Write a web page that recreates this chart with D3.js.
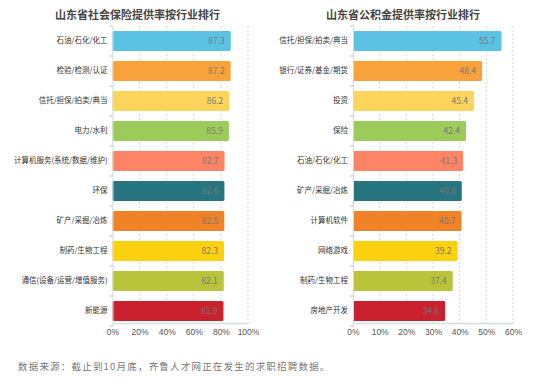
<!DOCTYPE html>
<html>
<head>
<meta charset="utf-8">
<script src="https://cdn.jsdelivr.net/npm/d3@7"></script>
<style>
  body { margin: 0; background: #fff; }
  svg { font-family: "Noto Sans CJK SC", "Noto Sans", sans-serif; }
</style>
</head>
<body>
<svg id="chart" width="544" height="388"></svg>
<script>
// left chart: social insurance
var socialCats = ['石油/石化/化工', '检验/检测/认证', '信托/担保/拍卖/典当', '电力/水利',
  '计算机服务(系统/数据/维护)', '环保', '矿产/采掘/冶炼', '制药/生物工程',
  '通信(设备/运营/增值服务)', '新能源'];
var socialVals = [87.3, 87.2, 86.2, 85.9, 82.7, 82.6, 82.5, 82.3, 82.1, 81.9];
var socialTicks = [0, 20, 40, 60, 80, 100];

// right chart: housing fund
var fundCats = ['信托/担保/拍卖/典当', '银行/证券/基金/期货', '投资', '保险', '石油/石化/化工',
  '矿产/采掘/冶炼', '计算机软件', '网络游戏', '制药/生物工程', '房地产开发'];
var fundVals = [55.7, 48.4, 45.4, 42.4, 41.3, 40.8, 40.7, 39.2, 37.4, 34.6];
var fundTicks = [0, 10, 20, 30, 40, 50, 60];

var colors = ['#5bc2e4', '#f8a23c', '#fed55c', '#9ccb5a', '#fd8464',
  '#267580', '#f08228', '#fed10e', '#bac43a', '#c9212d'];

var svg = d3.select('#chart');

function drawChart(title, cats, vals, ticks, x0, x1, titleX) {
  var x = d3.scaleLinear().domain([0, ticks[ticks.length - 1]]).range([x0, x1]);
  var y = d3.scaleBand().domain(cats).range([26, 326]).paddingInner(1/3).paddingOuter(1/6);
  var g = svg.append('g');

  g.append('text')
    .attr('x', titleX).attr('y', 19)
    .attr('text-anchor', 'middle')
    .attr('font-size', 11).attr('font-weight', 'bold')
    .attr('fill', '#444')
    .text(title);

  // gridlines
  g.selectAll('line.grid')
    .data(ticks.slice(1))
    .enter().append('line')
      .attr('class', 'grid')
      .attr('x1', function(d) { return x(d); })
      .attr('x2', function(d) { return x(d); })
      .attr('y1', 26).attr('y2', 323)
      .attr('stroke', '#d8d8d8')
      .attr('stroke-dasharray', '2,2');

  // bars
  g.selectAll('rect.bar')
    .data(vals)
    .enter().append('rect')
      .attr('class', 'bar')
      .attr('x', x(0))
      .attr('y', function(d, i) { return y(cats[i]); })
      .attr('width', function(d) { return x(d) - x(0); })
      .attr('height', y.bandwidth())
      .attr('rx', 1.5)
      .attr('fill', function(d, i) { return colors[i]; });

  g.selectAll('text.val')
    .data(vals)
    .enter().append('text')
      .attr('class', 'val')
      .attr('x', function(d) { return x(d) - 6; })
      .attr('y', function(d, i) { return y(cats[i]) + y.bandwidth() / 2 + 3; })
      .attr('text-anchor', 'end')
      .attr('font-size', 8.5)
      .attr('fill', '#777')
      .text(function(d) { return d.toFixed(1); });

  // y axis
  var yAxis = g.append('g')
    .attr('transform', 'translate(' + x(0) + ',0)')
    .call(d3.axisLeft(y).tickSize(0).tickPadding(5));
  yAxis.select('.domain').attr('stroke', '#c6dde3');
  yAxis.selectAll('text').attr('font-size', 7.5).attr('fill', '#333')
    .attr('font-family', '"Noto Sans CJK SC", sans-serif');

  // small separators between categories
  g.selectAll('line.sep')
    .data(d3.range(cats.length + 1))
    .enter().append('line')
      .attr('class', 'sep')
      .attr('x1', x(0) - 3).attr('x2', x(0))
      .attr('y1', function(d) { return 26 + d * y.step() - y.step() / 6 + 5; })
      .attr('y2', function(d) { return 26 + d * y.step() - y.step() / 6 + 5; })
      .attr('stroke', '#bbb');

  // x axis
  var xAxis = g.append('g')
    .attr('transform', 'translate(0,323)')
    .call(d3.axisBottom(x).tickValues(ticks).tickSize(0).tickPadding(6)
      .tickFormat(function(d) { return d + '%'; }));
  xAxis.select('.domain').attr('stroke', '#cfe0e0').attr('stroke-width', 1.5);
  xAxis.selectAll('text').attr('font-size', 8.5).attr('fill', '#555');
}

drawChart('山东省社会保险提供率按行业排行', socialCats, socialVals, socialTicks, 112.5, 248, 137.5);
drawChart('山东省公积金提供率按行业排行', fundCats, fundVals, fundTicks, 353, 513, 403);

svg.append('text')
  .attr('x', 18).attr('y', 370)
  .attr('font-size', 9.5)
  .attr('letter-spacing', 1.2)
  .attr('fill', '#777')
  .attr('font-family', '"Noto Sans CJK SC", serif')
  .text('数据来源：截止到10月底，齐鲁人才网正在发生的求职招聘数据。');
</script>
</body>
</html>
